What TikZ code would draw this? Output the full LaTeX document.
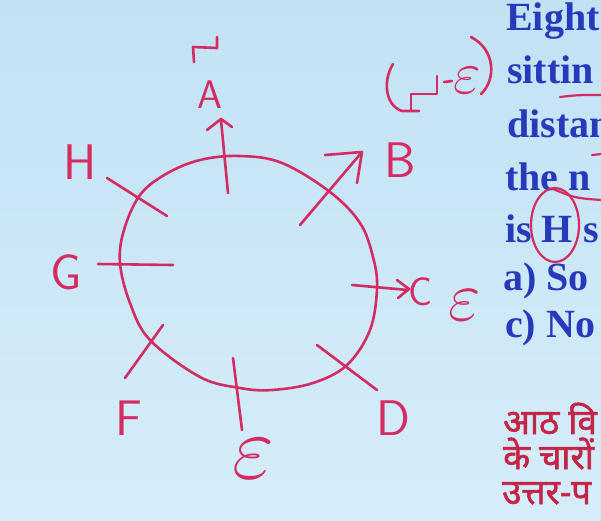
\documentclass[tikz,border=0pt]{standalone}
\usepackage{fontspec}
\setmainfont{Liberation Serif}
\newfontfamily\hindifont[Script=Devanagari,FakeBold=1.6]{Noto Sans}
\definecolor{penred}{RGB}{212,44,98}
\definecolor{qblue}{RGB}{40,58,188}
\definecolor{hred}{RGB}{196,36,70}
\definecolor{bgtop}{RGB}{194,226,244}
\definecolor{bgbot}{RGB}{214,237,249}
\begin{document}
\begin{tikzpicture}[x=1pt,y=-1pt,
  pen/.style={draw=penred,line width=2.6pt,line cap=round,line join=round},
  hand/.style={text=penred,inner sep=0pt,font=\sffamily\fontsize{50}{50}\selectfont},
  handsmall/.style={text=penred,inner sep=0pt,font=\sffamily\fontsize{40}{40}\selectfont},
  handeps/.style={text=penred,inner sep=0pt,font=\fontsize{20.74}{24}\selectfont},
  qtext/.style={anchor=base west,inner sep=0pt,text=qblue,font=\bfseries\fontsize{40}{40}\selectfont},
  htext/.style={anchor=base west,inner sep=0pt,text=hred,font=\hindifont\fontsize{35}{35}\selectfont}]
\useasboundingbox (0,0) rectangle (601,520);
\shade[top color=bgtop,bottom color=bgbot] (0,0) rectangle (601,520);

% question text (cut at the right edge)
\begin{scope}
\clip (0,0) rectangle (601,520);
\node[qtext] (q1) at (506,30)  {Eight};
\node[qtext] (q2) at (507,83)  {sittin};
\node[qtext] (q3) at (507,137) {distan};
\node[qtext] (q4) at (505,190) {the n};
\node[qtext] (q5) at (505,242) {is H s};
\node[qtext] (q6) at (503,290) {a) So};
\node[qtext] (q7) at (505,337) {c) No};
\node[htext] (h1) at (503,434) {आठ वि};
\node[htext] (h2) at (503,469) {के चारों};
\node[htext] (h3) at (502,504) {उत्तर-प};
% red marks on the text
\draw[pen,line width=2.2pt] (560,97) .. controls (577,95) .. (601,95);
\draw[pen,line width=2.2pt] (592,155) -- (601,154);
\draw[pen,line width=2.2pt] (555,225) ellipse [x radius=24, y radius=37];
\draw[pen,line width=2.2pt] (553,189) .. controls (575,198) .. (601,200);
\end{scope}

% the round table
\draw[pen] plot[smooth cycle, tension=0.6] coordinates {
 (200,160) (240,156) (282,163) (330,192) (360,223) (373,257) (377,288)
 (370,330) (347,365) (313,383) (272,390) (240,388) (200,377) (150,340)
 (130,303) (120,263) (124,230) (140,195) (166,174)};

% seats
\draw[pen] (107,178) -- (167,216);
\draw[pen] (98,264) -- (173,265);
\draw[pen] (163,325) -- (125,378);
\draw[pen] (233,358) -- (242,430);
\draw[pen] (317,345) -- (377,390);
\draw[pen] (352,285) -- (408,290);
\draw[pen] (397,280) -- (409,289) -- (398,298);
\draw[pen] (300,225) -- (362,152);
\draw[pen] (325,155) -- (362,152) -- (357,183);
\draw[pen] (228,193) -- (221,120);
\draw[pen] (207,130) -- (221,119) -- (232,127);

% names
\node[hand] (H) at (80,162) {H};
\node[hand] (G) at (66,272) {G};
\node[hand] (F) at (129,418) {F};
\node[handeps,scale=4.4] (E) at (253,459) {$\varepsilon$};
\node[hand] (D) at (393,418) {D};
\node[handsmall] (C) at (421,292) {C};
\node[handeps,scale=3.4] (E2) at (465,305) {$\varepsilon$};
\node[hand] (B) at (400,160) {B};
\node[handsmall] (A) at (210,95) {A};

% marks above A and (G-E)
\draw[pen] (217,37) -- (217,48) -- (193,47) -- (194,62);
\draw[pen] (393,64) .. controls (382,82) and (386,106) .. (402,111) -- (419,111);
\draw[pen] (411,111) -- (411,94) -- (437,94) -- (437,76);
\draw[pen] (444,82) -- (452,81);
\node[handeps,scale=2.9] (E3) at (467,81) {$\varepsilon$};
\draw[pen] (471,37) .. controls (496,50) and (496,80) .. (481,94);
\end{tikzpicture}
\end{document}
